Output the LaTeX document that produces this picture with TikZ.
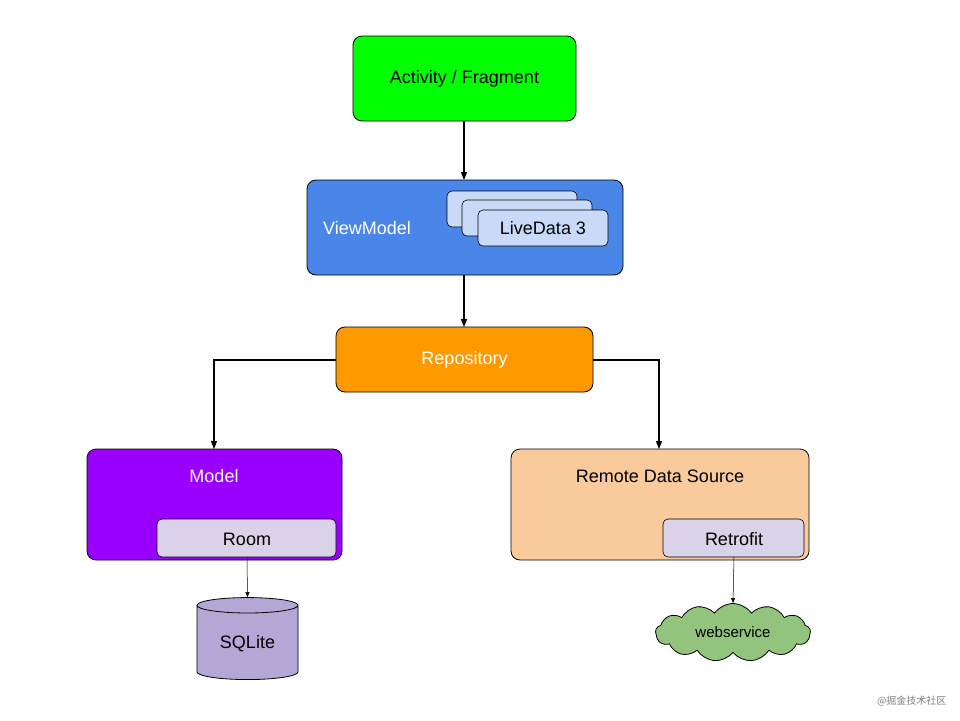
\documentclass[tikz,border=0pt]{standalone}
\usepackage{fontspec}
\setmainfont{Liberation Sans}
\newfontfamily\cjk{Noto Sans CJK SC}
\usetikzlibrary{shapes.geometric,shapes.symbols,arrows.meta}
\definecolor{cgreen}{HTML}{00FF00}
\definecolor{cblue}{HTML}{4A86E8}
\definecolor{clight}{HTML}{C9DAF8}
\definecolor{corange}{HTML}{FF9900}
\definecolor{cpurple}{HTML}{9900FF}
\definecolor{cpeach}{HTML}{F9CB9C}
\definecolor{clav}{HTML}{D9D2E9}
\definecolor{cdb}{HTML}{B4A7D6}
\definecolor{ccloud}{HTML}{93C47D}
\tikzset{
 box/.style={draw=black, rounded corners=9pt, line width=0.8pt},
 inner/.style={draw=black, rounded corners=5pt, line width=0.6pt},
 arr/.style={-{Triangle[length=8pt,width=6pt]}, line width=1.1pt},
 thin arr/.style={-{Triangle[length=5pt,width=4pt]}, line width=0.5pt},
 lbl/.style={font=\fontsize{18}{20}\selectfont},
}
\begin{document}
\begin{tikzpicture}[x=1pt,y=-1pt]
\useasboundingbox (0,0) rectangle (960,720);
\draw[box, fill=cgreen] (353,36) rectangle (576,121);
\node[lbl] (act) at (464.5,78.5) {Activity / Fragment};
\coordinate (actb) at (464,121);
\draw[box, fill=cblue] (307,180) rectangle (623,275);
\coordinate (vmt) at (464,180);
\coordinate (vmb) at (464,275);
\node[lbl, text=white] (vm) at (367,228) {ViewModel};
\draw[inner, fill=clight] (447,191) rectangle (577,227);
\draw[inner, fill=clight] (462,200) rectangle (592,236);
\draw[inner, fill=clight] (478,210) rectangle (608,246);
\node[lbl] (ld) at (543,228) {LiveData 3};
\draw[box, fill=corange] (336,327) rectangle (593,392);
\node[lbl, text=white] (repo) at (464.5,360) {Repository};
\coordinate (rt) at (464,327);
\coordinate (rl) at (336,360);
\coordinate (rr) at (593,360);
\draw[box, fill=cpurple] (87,449) rectangle (342,560);
\node[lbl, text=white] (model) at (214,476) {Model};
\coordinate (mt) at (214,449);
\draw[inner, fill=clav] (157,519) rectangle (336,557);
\node[lbl] (room) at (247,539) {Room};
\coordinate (roomb) at (247,557);
\draw[box, fill=cpeach] (511,449) rectangle (809,560);
\node[lbl] (remote) at (660,476) {Remote Data Source};
\coordinate (remt) at (659,449);
\draw[inner, fill=clav] (663,519) rectangle (804,557);
\node[lbl] (retro) at (734,539) {Retrofit};
\coordinate (retb) at (734,557);
\node[cylinder, shape border rotate=90, aspect=0.25, draw=black, fill=cdb, minimum width=101pt, minimum height=82pt, line width=0.8pt, lbl] (sql) at (247.5,644) {\raisebox{-10pt}{SQLite}};
\node[cloud, cloud puffs=13, cloud puff arc=110, aspect=2.8, draw=black, fill=ccloud, minimum width=155pt, minimum height=58pt, line width=0.8pt, inner sep=0pt, font=\fontsize{15}{17}\selectfont] (ws) at (733,632.5) {webservice};
\draw[arr] (actb) -- (vmt);
\draw[arr] (vmb) -- (rt);
\draw[arr] (rl) -- (214,360) -- (mt);
\draw[arr] (rr) -- (659,360) -- (remt);
\draw[thin arr] (roomb) -- (sql.north);
\draw[thin arr] (retb) -- (ws.north);
\node[text=gray, font=\cjk\fontsize{10}{12}\selectfont, anchor=east] (wm) at (950,701) {@掘金技术社区};
\end{tikzpicture}
\end{document}
